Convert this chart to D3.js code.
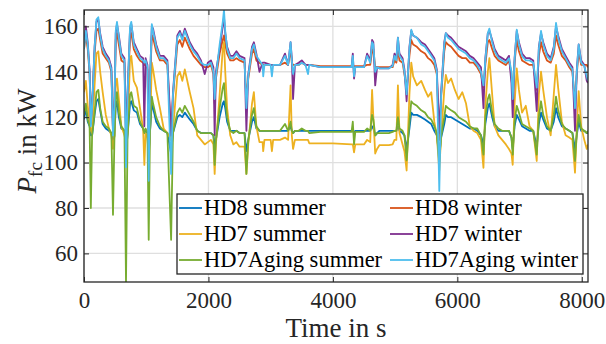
<!DOCTYPE html>
<html><head><meta charset="utf-8">
<script src="https://cdn.jsdelivr.net/npm/d3@7"></script>
<style>
html,body{margin:0;padding:0;background:#fff;}
svg{display:block;font-family:"Liberation Serif","Times New Roman",serif;}
</style></head><body>
<svg id="chart" width="606" height="344"></svg>
<script>
// Fuel-cell power over the drive cycle, six vehicle / season combinations
const time = [0,30,60,90,110,130,170,200,230,260,
  300,350,400,440,466,490,510,530,560,600,
  650,675,700,740,760,800,850,900,950,970,
  990,1020,1040,1060,1090,1110,1160,1220,1280,1340,
  1400,1430,1500,1540,1580,1620,1700,1760,1820,1880,
  1940,1990,2040,2080,2100,2120,2180,2230,2250,2270,
  2300,2350,2400,2450,2500,2580,2610,2640,2700,2730,
  2770,2820,2870,2880,2900,3000,3020,3040,3150,3230,
  3280,3320,3340,3360,3390,3450,3500,3560,3600,3620,
  3800,4000,4300,4320,4340,4360,4500,4550,4600,4630,
  4650,4680,4710,4750,4900,4960,4990,5020,5045,5070,
  5120,5150,5185,5230,5260,5290,5350,5420,5480,5530,
  5580,5630,5670,5710,5740,5790,5815,5850,5900,5960,
  6020,6080,6140,6200,6260,6320,6380,6420,6450,6490,
  6515,6560,6600,6660,6720,6780,6830,6870,6890,6920,
  6955,6990,7040,7100,7160,7220,7276,7310,7345,7380,
  7440,7500,7550,7586,7620,7680,7740,7800,7850,7891,
  7920,7950,7990,8040,8080,8100];

const hd8Summer = [119,124,118,116,112,112,121,127,128,123,
  117,115,114,113,108,112,125,127,120,115,
  114,106,112,126,127,123,122,117,115,113,
  114,113,104,113,126,124,118,115,114,113,
  104,113,120,121,120,122,119,117,114,113,
  113,113,113,112,108,110,120,126,127,124,
  118,114,114,114,113,113,105,110,118,120,
  115,114,114,114,114,114,114,114,114,114,
  114,116,114,113,114,114,114,114,114,114,
  114,114,114,114,113,114,114,114,114,116,
  115,112,113,114,114,114,114,114,116,114,
  113,112,106,115,122,121,121,120,119,118,
  117,114,112,103,111,117,121,120,120,119,
  118,117,116,115,115,114,112,108,117,124,
  126,120,116,114,114,114,114,111,106,116,
  121,119,116,115,114,114,107,117,122,119,
  115,114,118,124,120,116,115,114,113,106,
  112,118,114,114,113,113];

const hd8Winter = [150,156,150,139,117,124,148,158,159,154,
  148,146,144,140,113,125,154,157,152,145,
  144,110,129,155,157,150,147,145,144,143,
  144,141,108,134,156,155,149,145,145,143,
  110,129,152,154,151,155,150,147,145,143,
  142,142,143,139,126,137,148,154,156,152,
  148,145,145,146,145,144,128,137,148,150,
  145,144,143,143,143,143,143,143,143,144,
  143,150,144,143,143,143,144,143,143,143,
  142.5,142.5,142.5,142.5,142.5,142.5,142.5,143,143,149,
  150,142,142,142,142,142,145,144,150,145,
  144,139,132,147,154,152,151,149,148,146,
  145,143,139,110,129,149,153,152,151,149,
  147,146,146,144,144,142,139,133,143,153,
  154,150,147,145,144,143,145,139,128,144,
  154,149,145,144,143,143,132,147,153,149,
  145,144,148,156,152,147,145,142,140,126,
  139,149,143,143,143,142];

const hd7Summer = [131,136,125,118,114,113,134,148,149,140,
  131,121,115,112,106,112,134,137,128,116,
  112,109,113,146,147,136,133,124,115,99,
  113,111,102,112,144,141,132,124,115,113,
  110,114,138,140,136,141,131,124,112,110,
  108,109,110,108,95,108,130,150,153,140,
  124,112,108,109,107,107,95,108,126,131,
  116,109,109,105,110,110,105,110,110,111,
  110,134,112,106,110,110,110,110,110,108.5,
  108.5,108.5,108,108,104.5,108,108,110,109,132,
  120,104,106,107.7,107.7,108,110,110,134,113,
  108,105,96.5,130,144,138,134,136,132,129,
  131,118,112,96.5,112,132,138.6,135,137,132,
  128,131,126,116,114,113,110,97.7,125,140,
  146,130,116,112,110,108,106,104,99,126,
  141.5,132,122,125,116,114,100.7,130,140,132,
  120,112,130,143,133,118,112,111,110,95.5,
  115,131.5,116,110,106,108];

const hd7Winter = [152,160,153,141,118,125,151,162,163,157,
  151,148,146,142,114,126,157,161,156,148,
  146,112,131,159,161,153,150,147,146,116,
  146,143,110,136,160,159,152,147,147,145,
  112,131,156,158,155,159,153,150,148,145,
  139,144,145,142,112,140,150,160,164,157,
  151,147,147,149,147,146,114,139,151,153,
  148,140,144,144,144,143,143,143,143,148,
  143,153,146,128,143,144,145,143,143,143,
  142,142,142,148,137,142,142,148,145,154,
  153,134,142,141.5,141.5,143,148,146,155,148,
  146,141,127,151,158,156,155,153,152,150,
  148,146,141,113,131,153,157,156,155,153,
  151,150,149,147,146,144,142,124,146,157,
  158,154,150,147,146,145,147,135,120,146,
  158,153,148,146,146,145,122.7,151,157,153,
  148,146,151,160,156,150,147,144,142,114,
  141,152,145,143,136,135];

const hd7AgingSummer = [121,126,119,116,80,112,122,131,132,124,
  118,116,115,113,77,112,128,131,122,116,
  114,47.4,112,130,131,125,124,118,115,113,
  115,113,66,113,129,126,120,116,114,113,
  66,113,122,124,122,125,121,118,114,113,
  113,113,113,112,99,110,124,133,135,128,
  120,114,113,114,113,113,95,110,121,124,
  116,114,114,114,114,114,114,114,114,117,
  114,118,114,113,114,114,115,114,114,113,
  113.5,113.5,113.5,118,108,113.5,113.5,115,114,121,
  119,112,113,113,113,113.5,114,114,120,115,
  114,112,101,118,127,126,125,123,122,120,
  119,116,113,100,112,120,125,124,123,122,
  120,119,118,116,115,115,112,103.5,120,128,
  130,122,117,115,114,114,114,111,103.5,118,
  125,122,117,116,115,114,103.5,120,127,121,
  116,114,121,129,123,117,115,114,113,100.7,
  113,121,115,114,113,114];

const hd7AgingWinter = [150,158,152,140,116,124,150,163,164,156,
  150,147,145,141,112,125,158,162,155,147,
  145,98,130,160,162,152,149,146,145,144,
  145,142,92,135,161,158,151,146,146,144,
  95,130,155,157,154,158,152,149,147,144,
  143,143,144,140,128,138,152,162,167.2,158,
  150,146,146,148,146,145,124,138,150,152,
  147,145,143,138,143,143,138,143,143,147,
  143,153,145,139,143,143,144,143,139,143,
  142,142,142,147,138,142,142,147,144,153,
  152,140,142,141.5,141.5,142.5,147,145,155,147,
  145,140,130,150,158.5,156,155,152,151,149,
  147,145,140,87.5,130,152,157,155,154,152,
  150,149,148,146,145,143,140,134,145,157,
  159,153,149,146,145,144,146,140,128,145,
  158.5,152,147,145,145,144,133,150,158,152,
  147,145,150,161.5,155,149,146,143,141,124,
  140,152,144,142.5,138,136];

const seriesNames = ["HD8 summer","HD8 winter","HD7 summer","HD7 winter","HD7Aging summer","HD7Aging winter"];
const seriesColors = ["#0072BD","#D95319","#EDB120","#7E2F8E","#77AC30","#4DBEEE"];
const seriesValues = [hd8Summer, hd8Winter, hd7Summer, hd7Winter, hd7AgingSummer, hd7AgingWinter];

const xTicks = [0,2000,4000,6000,8000];
const yTicks = [60,80,100,120,140,160];

const svg = d3.select("#chart");
const plotL = 84, plotR = 588, plotT = 10, plotB = 282;
const axisColor = "#262626";

const x = d3.scaleLinear().domain([0, 8100]).range([plotL, plotR]);
const y = d3.scaleLinear().domain([47.4, 167.2]).range([plotB, plotT]);

// grid
const grid = svg.append("g").attr("stroke", "#dfdfdf").attr("stroke-width", 1.3);
grid.selectAll("line.gx").data(xTicks).join("line")
  .attr("x1", d => x(d)).attr("x2", d => x(d)).attr("y1", plotT).attr("y2", plotB);
grid.selectAll("line.gy").data(yTicks).join("line")
  .attr("y1", d => y(d)).attr("y2", d => y(d)).attr("x1", plotL).attr("x2", plotR);

// series
svg.append("clipPath").attr("id", "plotClip").append("rect")
  .attr("x", plotL).attr("y", plotT).attr("width", plotR - plotL).attr("height", plotB - plotT);

const lineGen = vals => d3.line()
  .x((d, i) => x(time[i]))
  .y((d, i) => y(vals[i]))(vals);

svg.append("g").attr("clip-path", "url(#plotClip)")
  .selectAll("path").data(seriesValues).join("path")
  .attr("d", d => lineGen(d))
  .attr("fill", "none")
  .attr("stroke", (d, i) => seriesColors[i])
  .attr("stroke-width", 1.8)
  .attr("stroke-linejoin", "round");

// axes (ticks point inward, mirrored on top/right)
const fontSize = 23;
const xAxis = svg.append("g").attr("transform", `translate(0,${plotB})`)
  .call(d3.axisBottom(x).tickValues(xTicks).tickFormat(d3.format("d")).tickSizeInner(-5).tickSizeOuter(0));
xAxis.selectAll("text").attr("y", 26).attr("dy", 0);

svg.append("g").attr("transform", `translate(${plotL},0)`)
  .call(d3.axisLeft(y).tickValues(yTicks).tickFormat(d3.format("d")).tickSizeInner(-5).tickSizeOuter(0).tickPadding(6));

svg.append("g").attr("transform", `translate(0,${plotT})`)
  .call(d3.axisTop(x).tickValues(xTicks).tickFormat("").tickSizeInner(-5).tickSizeOuter(0));
svg.append("g").attr("transform", `translate(${plotR},0)`)
  .call(d3.axisRight(y).tickValues(yTicks).tickFormat("").tickSizeInner(-5).tickSizeOuter(0));

svg.selectAll(".domain").remove();
svg.selectAll(".tick line").attr("stroke", axisColor).attr("stroke-width", 1);
svg.selectAll(".tick text").attr("fill", axisColor)
  .style("font-family", '"Liberation Serif", serif').style("font-size", fontSize + "px");

svg.append("rect").attr("x", plotL).attr("y", plotT).attr("width", plotR - plotL).attr("height", plotB - plotT)
  .attr("fill", "none").attr("stroke", axisColor).attr("stroke-width", 1.3);

// axis titles
svg.append("text").attr("x", (plotL + plotR) / 2).attr("y", 337)
  .attr("text-anchor", "middle").attr("fill", axisColor).style("font-size", "27px")
  .text("Time in s");

const yTitle = svg.append("text")
  .attr("transform", `translate(36,${(plotT + plotB) / 2 - 5}) rotate(-90)`)
  .attr("text-anchor", "middle").attr("fill", axisColor).style("font-size", "27px");
yTitle.append("tspan").style("font-style", "italic").text("P");
yTitle.append("tspan").attr("dy", 6).style("font-size", "19px").text("fc");
yTitle.append("tspan").attr("dy", -6).text(" in kW");

// legend
const lg = { x: 177, y: 194, w: 406, h: 80, rowH: 26, colX: [178, 389], lineLen: 24 };
svg.append("rect").attr("x", lg.x).attr("y", lg.y).attr("width", lg.w).attr("height", lg.h)
  .attr("fill", "#fff").attr("stroke", axisColor).attr("stroke-width", 1.3);
const items = svg.append("g").selectAll("g").data(seriesNames).join("g")
  .attr("transform", (d, i) => `translate(${lg.colX[i % 2]},${lg.y + 14 + Math.floor(i / 2) * lg.rowH})`);
items.append("line").attr("x1", 1).attr("x2", lg.lineLen).attr("y1", 0).attr("y2", 0)
  .attr("stroke", (d, i) => seriesColors[i]).attr("stroke-width", 1.8);
items.append("text").attr("x", lg.lineLen + 2).attr("y", 7)
  .attr("fill", "#000").style("font-size", "22.5px").text(d => d);
</script>
</body></html>
